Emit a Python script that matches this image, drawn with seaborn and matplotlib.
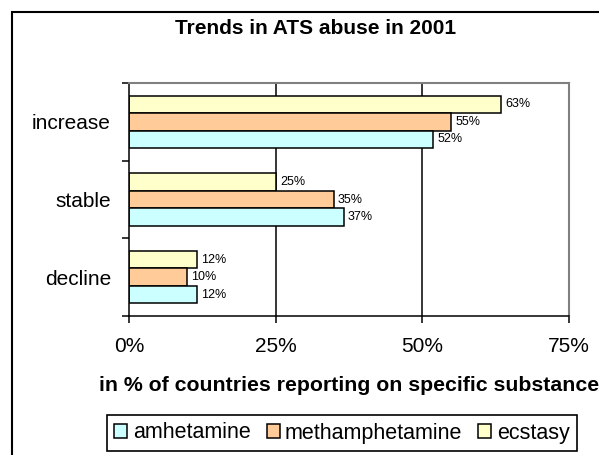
import numpy as np
import pandas as pd
import matplotlib
matplotlib.use('Agg')
import matplotlib.pyplot as plt
from matplotlib.patches import Rectangle, Patch
from matplotlib.ticker import FixedLocator
import seaborn as sns

# Data (percent of countries)
trends = ['increase', 'stable', 'decline']
substances = ['amhetamine', 'methamphetamine', 'ecstasy']
amphetamine = [51.9, 36.6, 11.6]
methamphetamine = [54.9, 34.9, 9.9]
ecstasy = [63.4, 25.0, 11.6]
xticks = [0, 25, 50, 75]
xtick_labels = ['0%', '25%', '50%', '75%']
colors = {'amhetamine': '#CCFFFF', 'methamphetamine': '#FFCC99', 'ecstasy': '#FFFFCC'}

df = pd.DataFrame({
    'trend': trends * 3,
    'substance': np.repeat(substances, 3),
    'value': amphetamine + methamphetamine + ecstasy,
})

sns.set_style('white')
plt.rcParams['font.family'] = ['Liberation Sans', 'DejaVu Sans']
plt.rcParams['text.color'] = 'black'
plt.rcParams['axes.labelcolor'] = 'black'
plt.rcParams['xtick.color'] = 'black'
plt.rcParams['ytick.color'] = 'black'

fig = plt.figure(figsize=(5.99, 4.55), dpi=100)
ax = fig.add_axes([129 / 599, 1 - 316 / 455, 440 / 599, 233 / 455])

# ecstasy drawn on top of each group, amphetamine at the bottom
draw_order = ['ecstasy', 'methamphetamine', 'amhetamine']
sns.barplot(data=df, x='value', y='trend', hue='substance', order=trends,
            hue_order=draw_order, palette=colors, orient='h', width=0.67,
            edgecolor='black', linewidth=1.1, saturation=1, legend=False, ax=ax)

for cont in ax.containers:
    ax.bar_label(cont, fmt='%.0f%%', padding=3, fontsize=9, color='black')

ax.set_xlim(0, 75)
ax.set_ylim(2.5, -0.5)
ax.set_xticks(xticks)
ax.set_xticklabels(xtick_labels, fontsize=15)
ax.set_yticks(range(len(trends)))
ax.set_yticklabels(trends, fontsize=15)
ax.yaxis.set_minor_locator(FixedLocator([-0.5, 0.5, 1.5, 2.5]))
ax.tick_params(axis='y', which='major', length=0, pad=13)
ax.tick_params(axis='y', which='minor', length=5, width=1.1, color='black', direction='out', left=True)
ax.tick_params(axis='x', length=5, width=1.1, color='black', direction='out', bottom=True, pad=10)

ax.grid(axis='x', color='black', linewidth=1.1)
ax.set_axisbelow(True)
gl = ax.get_xgridlines()
gl[0].set_visible(False)
gl[-1].set_visible(False)

for side in ['left', 'bottom']:
    ax.spines[side].set_color('black')
    ax.spines[side].set_linewidth(1.1)
for side in ['top', 'right']:
    ax.spines[side].set_color('#808080')
    ax.spines[side].set_linewidth(1.5)

ax.set_ylabel('')
ax.set_xlabel('in % of countries reporting on specific substance',
              fontsize=15.3, fontweight='bold')
ax.xaxis.label.set_va('center')
ax.xaxis.set_label_coords(0.5, -0.30)

fig.text(316 / 599, 1 - 29 / 455, 'Trends in ATS abuse in 2001',
         fontsize=15, fontweight='bold', ha='center', va='center')

handles = [Patch(facecolor=colors[s], edgecolor='black', linewidth=1.1) for s in substances]
leg = fig.legend(handles, substances, loc='center', ncol=3,
                 bbox_to_anchor=(342 / 599, 1 - 433 / 455), fontsize=15.5,
                 frameon=True, fancybox=False, framealpha=1, edgecolor='black',
                 handlelength=0.6, handleheight=0.6, handletextpad=0.25,
                 columnspacing=0.75, borderpad=0.35, borderaxespad=0)
leg.get_frame().set_linewidth(1.2)

# outer chart frame, running off the right and bottom edges
fig.patches.append(Rectangle((12 / 599, -0.2), 1.5, 1.2 - 12 / 455,
                             transform=fig.transFigure, fill=False,
                             edgecolor='black', linewidth=1.5))

fig.savefig('out.png', dpi=100)
